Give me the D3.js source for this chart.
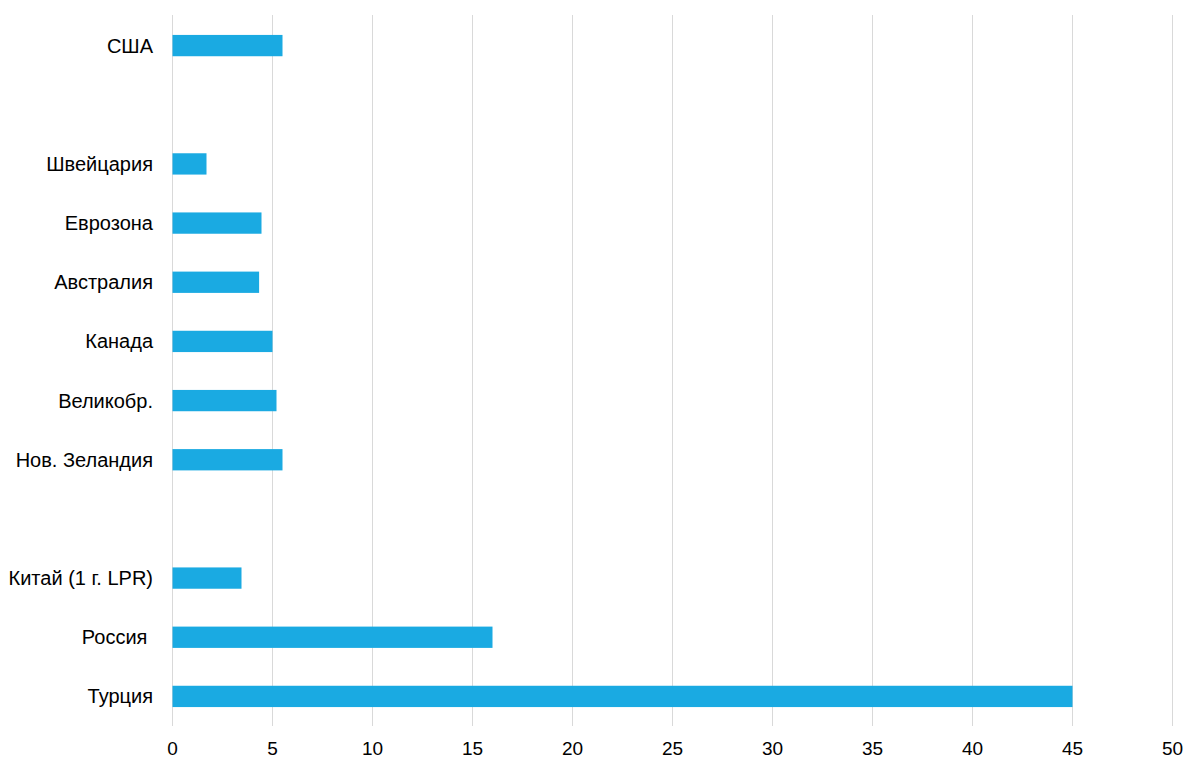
<!DOCTYPE html>
<html>
<head>
<meta charset="utf-8">
<script src="https://cdn.jsdelivr.net/npm/d3@7"></script>
<style>
  body{margin:0;background:#fff;}
  text{font-family:"Liberation Sans",Arial,sans-serif;fill:#000;}
</style>
</head>
<body>
<svg id="chart"></svg>
<script>
// rows from top to bottom, empty strings are the blank gap rows
const categories=["США","","Швейцария","Еврозона","Австралия","Канада","Великобр.","Нов. Зеландия","","Китай (1 г. LPR)","Россия ","Турция"];
const values=[5.5,null,1.7,4.45,4.33,5.0,5.2,5.5,null,3.45,16,45];
const ticks=[0,5,10,15,20,25,30,35,40,45,50];

function barchart(){
    const width=1200, height=770;
    const margin={top:16,right:28,bottom:44,left:172};
    const svg=d3.select("#chart")
        .attr("width",width)
        .attr("height",height);

    const x=d3.scaleLinear()
        .domain([0,50])
        .range([margin.left,width-margin.right]);
    const y=d3.scaleBand()
        .domain(d3.range(categories.length))
        .range([margin.top,height-margin.bottom])
        .paddingInner(0.64)
        .paddingOuter(0.32);

    // vertical gridlines
    svg.append("g")
        .selectAll("line")
        .data(ticks)
        .enter().append("line")
        .attr("x1",d=>x(d)+0.5).attr("x2",d=>x(d)+0.5)
        .attr("y1",margin.top-1).attr("y2",height-margin.bottom)
        .attr("stroke","#d9d9d9")
        .attr("stroke-width",1);

    // bars
    const rows=categories.map((c,i)=>({name:c,value:values[i],i:i}));
    svg.append("g")
        .selectAll("rect")
        .data(rows.filter(d=>d.value!=null))
        .enter().append("rect")
        .attr("x",x(0)+0.5)
        .attr("y",d=>y(d.i))
        .attr("width",d=>x(d.value)-x(0))
        .attr("height",y.bandwidth())
        .attr("fill","#1aaae2");

    // category labels
    svg.append("g")
        .selectAll("text")
        .data(rows.filter(d=>d.name!==""))
        .enter().append("text")
        .attr("x",margin.left-19)
        .attr("y",d=>y(d.i)+y.bandwidth()/2)
        .attr("dy","0.35em")
        .attr("text-anchor","end")
        .style("font-size","20px")
        .style("white-space","pre")
        .text(d=>d.name);

    // x axis tick labels
    const xAxis=d3.axisBottom(x).tickValues(ticks).tickSize(0).tickPadding(16);
    const ax=svg.append("g")
        .attr("transform","translate(0,"+(height-margin.bottom)+")")
        .call(xAxis);
    ax.select(".domain").remove();
    ax.selectAll("text")
        .style("font-size","19px")
        .style("font-family","Liberation Sans, Arial, sans-serif")
        .attr("fill","#000");
}
barchart();
</script>
</body>
</html>
